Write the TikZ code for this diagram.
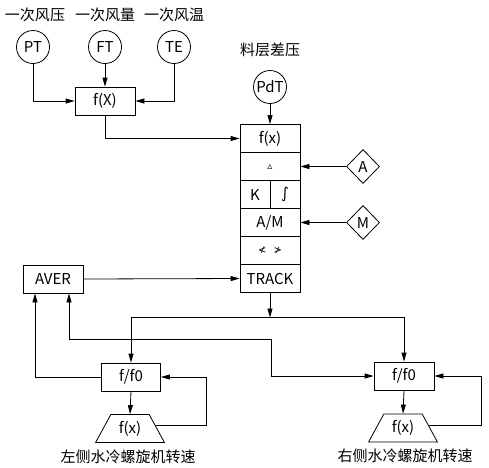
\documentclass[tikz,border=0pt]{standalone}
\usepackage{fontspec}
\setmainfont{Noto Sans CJK SC}
\newfontfamily\symf{DejaVu Sans}
\usetikzlibrary{shapes.geometric,arrows.meta,calc}
\begin{document}
\begin{tikzpicture}[x=1pt,y=-1pt,
  every node/.style={font=\fontsize{15}{17}\selectfont},
  lw/.style={line width=0.8pt},
  box/.style={draw,lw,rectangle,minimum width=60pt,minimum height=28pt,inner sep=0pt},
  halfbox/.style={draw,lw,rectangle,minimum width=30pt,minimum height=28pt,inner sep=0pt},
  circ/.style={draw,lw,circle,minimum size=33pt,inner sep=0pt},
  dia/.style={draw,lw,diamond,minimum width=33pt,minimum height=34pt,inner sep=0pt},
  trap/.style={draw,lw,trapezium,trapezium angle=59.5,trapezium stretches=true,minimum width=69pt,minimum height=28pt,inner sep=0pt},
  lab/.style={inner sep=0pt},
  arr/.style={lw,-{Triangle[length=9pt,width=5pt]}},
  ln/.style={lw}]
\useasboundingbox (0,0) rectangle (489,467);
% labels
\node[lab] (l1) at (35,15) {一次风压};
\node[lab] (l2) at (105,15) {一次风量};
\node[lab] (l3) at (174,15) {一次风温};
\node[lab] (l4) at (270,50) {料层差压};
% sensors
\node[circ] (PT) at (33,47) {PT};
\node[circ] (FT) at (105,47) {FT};
\node[circ] (TE) at (174,47) {TE};
\node[circ] (PdT) at (270,87) {PdT};
\node[box] (fX) at (105,101) {f(X)};
% stack
\node[box] (r1) at (270,138.5) {f(x)};
\node[box] (r2) at (270,166.5) {\symf\fontsize{10}{11}\selectfont ▵};
\node[halfbox] (r3a) at (255,194.5) {K};
\node[halfbox] (r3b) at (285,194.5) {\symf ∫};
\node[box] (r4) at (270,222.5) {A/M};
\node[box] (r5) at (270,250.5) {\symf\fontsize{10}{11}\selectfont ≮\hspace{7pt}≯};
\node[box] (r6) at (270,278.5) {TRACK};
\node[dia] (A) at (363,166.5) {A};
\node[dia] (M) at (363,222.5) {M};
\node[box] (AVER) at (53,279) {AVER};
\node[box,minimum width=59pt] (fL) at (131,377) {f/f0};
\node[box] (fR) at (404,376) {f/f0};
\node[trap] (tL) at (130,428.5) {f(x)};
\node[trap] (tR) at (403,428) {f(x)};
\node[lab] (l5) at (128,456.5) {左侧水冷螺旋机转速};
\node[lab] (l6) at (405,455.5) {右侧水冷螺旋机转速};
% coordinates
\coordinate (j1) at (270,317.5);
\coordinate (j2) at (69,339.5);
\coordinate (j3) at (271,339.5);
\coordinate (xL) at (35,0);
\coordinate (cL) at (206.5,0);
\coordinate (cR) at (481.5,0);
\coordinate (fbL) at ($(tL.top right corner)!0.4!(tL.bottom right corner)$);
\coordinate (fbR) at ($(tR.top right corner)!0.4!(tR.bottom right corner)$);
% connectors
\draw[arr] (PT.south) |- (fX.west);
\draw[arr] (FT.south) -- (fX.north);
\draw[arr] (TE.south) |- (fX.east);
\draw[arr] (fX.south) |- (r1.west);
\draw[arr] (PdT.south) -- (r1.north);
\draw[arr] (A.west) -- (r2.east);
\draw[arr] (M.west) -- (r4.east);
\draw[arr] (AVER.east) -- (r6.west);
\draw[arr] (r6.south) -- (j1);
\draw[arr] (j1) -| (fR.north);
\draw[arr] (j1) -| (fL.north);
\draw[arr] (j2) -- (j2 |- AVER.south);
\draw[arr] (j2) -- (j3) |- (fR.west);
\draw[arr] (fL.west) -| (xL |- AVER.south);
\draw[arr] (fL.south) -- (tL.top side);
\draw[arr] (fR.south) -- (tR.top side);
\draw[arr] (fbL) -- (fbL -| cL) |- (fL.east);
\draw[arr] (fbR) -- (fbR -| cR) |- (fR.east);
\end{tikzpicture}
\end{document}
